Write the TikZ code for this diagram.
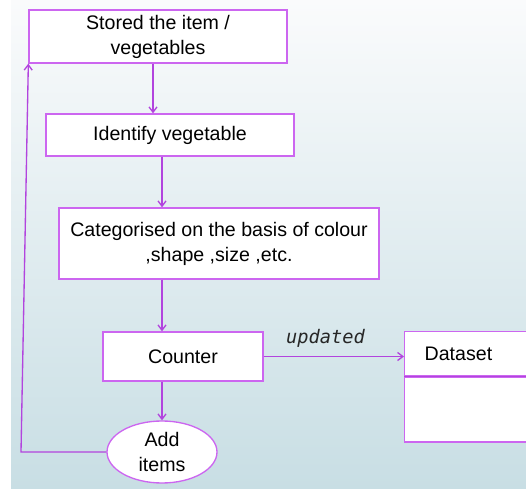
\documentclass[tikz,border=0pt]{standalone}
\usepackage{fontspec}
\setmainfont{Liberation Sans}
\newfontfamily\updfont{DejaVu Sans Mono}
\usepackage{tikz}
\usetikzlibrary{shapes.geometric,arrows.meta}

\definecolor{purp}{RGB}{178,68,222}
\definecolor{boxline}{RGB}{204,102,240}
\definecolor{bgtop}{RGB}{250,251,252}
\definecolor{bgbot}{RGB}{200,222,228}

\begin{document}
\begin{tikzpicture}[x=0.75pt,y=-0.75pt,
  stepbox/.style={draw=boxline,line width=1pt,fill=white,align=center,inner sep=0pt,
    font=\fontsize{14.7pt}{18.75pt}\selectfont},
  addnode/.style={stepbox,ellipse,minimum width=82.5pt,minimum height=46.5pt},
  arr/.style={draw=purp,line width=1pt,-{Straight Barb[length=4pt,width=6pt]}}]
\useasboundingbox (0,0) rectangle (526,489);
\clip (0,0) rectangle (526,489);
\shade[top color=bgtop,bottom color=bgbot] (11,0) rectangle (526,489);
% steps
\node[stepbox,minimum width=193.5pt,minimum height=39.75pt] (store) at (158,36.5) {Stored the item /\\vegetables};
\node[stepbox,minimum width=186pt,minimum height=31.5pt] (identify) at (170,135) {Identify vegetable};
\node[stepbox,minimum width=240pt,minimum height=53.25pt] (categ) at (219,243.5) {Categorised on the basis of colour\\,shape ,size ,etc.};
\node[stepbox,minimum width=120pt,minimum height=36.75pt] (counter) at (183,356.5) {Counter};
\node[addnode] (add) at (162,452) {Add\\items};
% dataset
\node[stepbox,anchor=north west,minimum width=120pt,minimum height=33pt,text width=90pt,align=left] (dstop) at (404,331) {Dataset};
\node[stepbox,anchor=north west,minimum width=120pt,minimum height=48.75pt] (dsbody) at (dstop.south west) {};
\draw[purp,line width=1pt] (dstop.south west) -- (dstop.south east);
% arrows
\draw[arr] ([xshift=-3.75pt]store.south) -- ([xshift=-3.75pt]store.south |- identify.north);
\draw[arr] (identify.south -| add.north) -- (categ.north -| add.north);
\draw[arr] (categ.south -| add.north) -- (counter.north -| add.north);
\draw[arr] (counter.south -| add.north) -- (add.north);
\draw[arr] (counter.east) -- node[pos=0.44,above=3pt,font=\updfont\itshape\fontsize{14pt}{16pt}\selectfont,text=black!85]{updated} (counter.east -| dstop.west);
\coordinate (loopcorner) at (21,452);
\draw[arr] (add.west) -- (loopcorner) -- (store.south west);
\end{tikzpicture}
\end{document}
